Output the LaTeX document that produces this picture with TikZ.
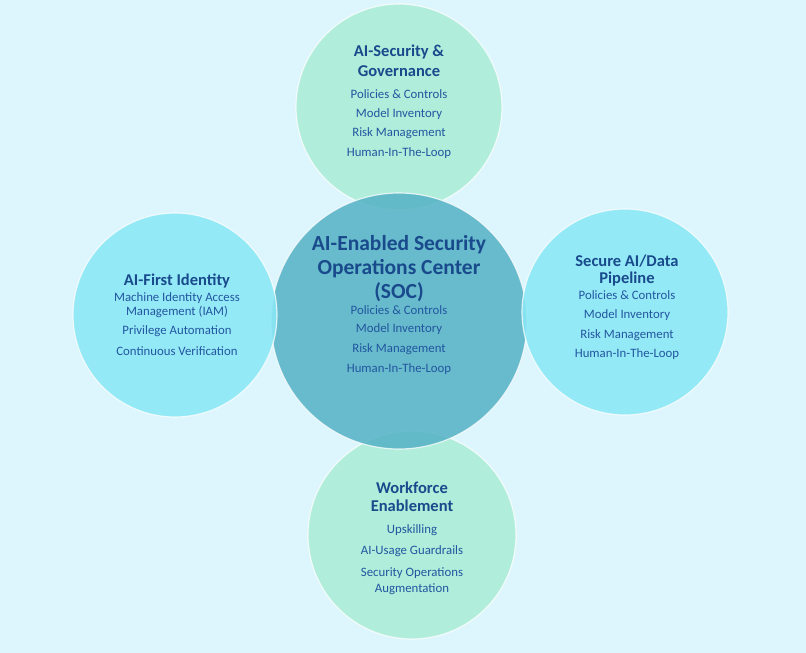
\documentclass[tikz,border=0pt]{standalone}
\usepackage{fontspec}
\setmainfont{Carlito}
\definecolor{bg}{HTML}{DDF5FC}
\definecolor{mint}{HTML}{AAEDD6}
\definecolor{cyanb}{HTML}{8BE8F6}
\definecolor{teal}{HTML}{58B4C6}
\definecolor{ttl}{HTML}{184A8C}
\definecolor{itm}{HTML}{2256A0}
\tikzset{
  bubble/.style={circle, draw=white, draw opacity=0.75, line width=1.2pt, fill opacity=0.88, inner sep=0pt},
  ttlA/.style={text=ttl, font=\bfseries\fontsize{16.5}{18}\selectfont, inner sep=0pt},
  ttlB/.style={text=ttl, font=\bfseries\fontsize{21.5}{24}\selectfont, inner sep=0pt},
  itmA/.style={text=itm, font=\fontsize{12.8}{14}\selectfont, inner sep=0pt}
}
\begin{document}
\begin{tikzpicture}[x=1pt,y=-1pt]
\fill[bg] (0,0) rectangle (806,653);
\useasboundingbox (0,0) rectangle (806,653);
% circles
\node[bubble, fill=mint, minimum size=206pt] (top) at (399,107) {};
\node[bubble, fill=mint, minimum size=208pt] (bot) at (412,535) {};
\node[bubble, fill=teal, minimum size=256pt] (soc) at (399,321) {};
\node[bubble, fill=cyanb, minimum size=204pt] (left) at (175,315) {};
\node[bubble, fill=cyanb, minimum size=206pt] (right) at (625,312) {};
% top texts
\node[ttlA] (t1) at (399,52) {AI-Security \&};
\node[ttlA] (t2) at (399,71) {Governance};
\node[itmA] (t3) at (399,94) {Policies \& Controls};
\node[itmA] (t4) at (399,114) {Model Inventory};
\node[itmA] (t5) at (399,133) {Risk Management};
\node[itmA] (t6) at (399,153) {Human-In-The-Loop};
% center texts
\node[ttlB] (c1) at (399,245) {AI-Enabled Security};
\node[ttlB] (c2) at (399,269) {Operations Center};
\node[ttlB] (c3) at (399,292) {(SOC)};
\node[itmA] (c4) at (399,310) {Policies \& Controls};
\node[itmA] (c5) at (399,329) {Model Inventory};
\node[itmA] (c6) at (399,349) {Risk Management};
\node[itmA] (c7) at (399,369) {Human-In-The-Loop};
% left texts
\node[ttlA] (l1) at (177,281) {AI-First Identity};
\node[itmA] (l2) at (177,298) {Machine Identity Access};
\node[itmA] (l3) at (177,312) {Management (IAM)};
\node[itmA] (l4) at (177,331) {Privilege Automation};
\node[itmA] (l5) at (177,351) {Continuous Verification};
% right texts
\node[ttlA] (r1) at (627,261) {Secure AI/Data};
\node[ttlA] (r2) at (627,279) {Pipeline};
\node[itmA] (r3) at (627,295) {Policies \& Controls};
\node[itmA] (r4) at (627,315) {Model Inventory};
\node[itmA] (r5) at (627,335) {Risk Management};
\node[itmA] (r6) at (627,354) {Human-In-The-Loop};
% bottom texts
\node[ttlA] (b1) at (412,488) {Workforce};
\node[ttlA] (b2) at (412,506) {Enablement};
\node[itmA] (b3) at (412,530) {Upskilling};
\node[itmA] (b4) at (412,551) {AI-Usage Guardrails};
\node[itmA] (b5) at (412,573) {Security Operations};
\node[itmA] (b6) at (412,589) {Augmentation};
\end{tikzpicture}
\end{document}
